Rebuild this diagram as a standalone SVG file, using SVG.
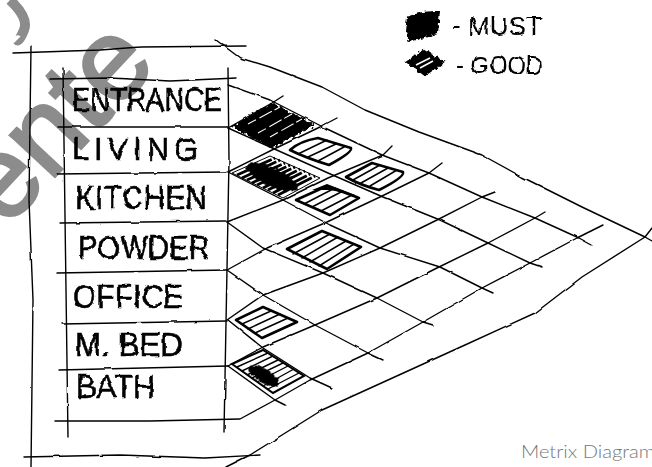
<svg xmlns="http://www.w3.org/2000/svg" width="652" height="467" viewBox="0 0 652 467">
<style>
.ln{fill:none;stroke:#000;stroke-width:1.4;stroke-linecap:round;stroke-linejoin:round}
.lb{font-family:"Liberation Sans",Arial,sans-serif;font-size:33px;fill:#000;stroke:#000;stroke-width:.6}
.lg{font-family:"Liberation Sans",Arial,sans-serif;font-size:26px;fill:#000}
.wm{font-family:"Liberation Sans",Arial,sans-serif;font-size:115px;fill:#8c8c8c;stroke:#8c8c8c;stroke-width:3}
.hg{fill:none;stroke:#000;stroke-width:1.5;stroke-linecap:round;stroke-linejoin:round}
.bd{fill:none;stroke:#000;stroke-width:2.6;stroke-linejoin:round}
.wh{fill:none;stroke:#fff;stroke-width:1.1;stroke-dasharray:9 4 14 3}
</style>
<defs>
<filter id="w" x="-5%" y="-5%" width="110%" height="110%"><feTurbulence type="fractalNoise" baseFrequency="0.06" numOctaves="2" seed="4"/><feDisplacementMap in="SourceGraphic" scale="2.2" xChannelSelector="R" yChannelSelector="G"/></filter>
<filter id="t" x="-5%" y="-10%" width="110%" height="120%"><feTurbulence type="fractalNoise" baseFrequency="0.09" numOctaves="2" seed="9"/><feDisplacementMap in="SourceGraphic" scale="4" xChannelSelector="R" yChannelSelector="G"/></filter>
<filter id="b" x="-15%" y="-15%" width="130%" height="130%"><feTurbulence type="fractalNoise" baseFrequency="0.25" numOctaves="2" seed="3"/><feDisplacementMap in="SourceGraphic" scale="6" xChannelSelector="R" yChannelSelector="G"/></filter>
</defs>
<rect width="652" height="467" fill="#fff"/>
<g id="watermark">
<text class="wm" transform="translate(6 229) rotate(-47)">ente</text>
<path d="M10 0Q29 18 24 30T17 40" fill="none" stroke="#8c8c8c" stroke-width="10"/>
</g>
<g id="connectors" class="ln" filter="url(#w)">
<path d="M13 53L100 50L140 47L246 46"/>
<path d="M31 46L29 200L33 300L31 467"/>
<path d="M24 457L120 455L205 458L260 455"/>
<path d="M216 40L240 58L270 67L322 87L365 110L419 132L482 155L522 177L582 207L645 237L652 241"/>
<path d="M226 467L250 455L322 410L399 375L465 345L535 313L582 277L645 237L652 228"/>
<path d="M50 79L110 78L170 81L237 78"/>
<path d="M63 68L68 437"/>
<path d="M228 68L229 160L224 432"/>
<path d="M57 127L228 127"/>
<path d="M57 174L226 172"/>
<path d="M60 223L226 221"/>
<path d="M57 273L227 270"/>
<path d="M62 324L227 321"/>
<path d="M59 370L228 366"/>
<path d="M55 421L150 421L240 419L275 400L310 380L368 353L423 322L482 288L530 263L577 238L603 225"/>
<path d="M228 85L270 100L325 128L382 155L429 173L482 197L535 218L579 238L592 245"/>
<path d="M228 128L270 147L328 173L383 197L440 220L488 243L530 263L542 267"/>
<path d="M228 172L283 200L330 225L380 248L440 267L482 288L493 293"/>
<path d="M227 222L263 248L323 273L377 298L423 322L433 325"/>
<path d="M227 270L263 295L315 325L368 353L383 360"/>
<path d="M228 320L263 348L310 378L332 388"/>
<path d="M228 366L275 400L285 405"/>
<path d="M228 128L272 103L283 96"/>
<path d="M228 172L272 150L320 127L337 118"/>
<path d="M227 222L283 200L328 178L383 155L392 146"/>
<path d="M227 270L267 248L327 222L380 197L429 173L442 163"/>
<path d="M227 320L263 295L323 273L380 248L437 220L482 197L495 192"/>
<path d="M228 366L263 347L315 325L377 298L437 268L488 243L535 218L545 212"/>
</g>
<g id="cell-entrance-living">
<path d="M232 126L272 103L314 125L272 148Z" fill="#000" stroke="#000" filter="url(#b)"/>
<path class="wh" d="M258 133L292 114M270 137L302 119M248 124L280 107"/>
</g>
<g id="cell-good-1"><path class="bd" d="M290 150Q300 141 318 138L351 148Q353 152 329 165Q306 158 290 150Z"/><path class="hg" d="M298 154L327 140M308 157L336 144M318 161L344 147"/></g>
<g id="cell-good-2"><path class="bd" d="M346 177L372 163L403 172Q405 177 379 190Q360 185 346 177Z"/><path class="hg" d="M353 180L380 165M361 183L388 168M370 186L397 170"/></g>
<g id="cell-kitchen-living">
<path d="M232 173L270 156L320 178L283 198Z" fill="#fff" stroke="#000"/>
<ellipse cx="272" cy="177" rx="28" ry="9" transform="rotate(25 272 177)" fill="#000" filter="url(#b)"/>
<path d="M237 175L275 158M242 178L280 160M247 180L285 163M252 183L290 165M257 185L295 167M263 188L300 169M268 190L305 171M273 193L310 174M278 195L315 176" fill="none" stroke="#000" stroke-width="2.8" stroke-dasharray="16 2 20 2"/>
</g>
<g id="cell-good-3"><path class="bd" d="M296 200L327 186L359 198L330 215Z"/><path d="M312 190L327 184L358 196L340 192L330 190Z" fill="#000"/><path class="hg" d="M304 204L335 188M312 207L343 191M321 211L352 195"/></g>
<g id="cell-good-4"><path class="bd" d="M287 249L322 231L361 247L327 269Z"/><path class="hg" d="M293 254L330 234M302 258L338 237M310 262L346 241M319 266L354 244"/></g>
<g id="cell-good-5"><path class="bd" d="M236 320L263 307L297 322L262 338Z"/><path class="hg" d="M242 324L271 311M248 329L280 314M255 333L288 318"/></g>
<g id="cell-bath">
<path d="M232 364L263 350L304 376L273 393Z" fill="#fff" stroke="#000" stroke-width="2"/>
<path d="M237 367L268 353M242 371L273 356M247 375L278 360M252 378L283 363M257 382L288 366M263 386L294 369M268 389L299 373" fill="none" stroke="#000" stroke-width="1.4"/>
<ellipse cx="264" cy="376" rx="17" ry="7" transform="rotate(30 264 376)" fill="#000" filter="url(#b)"/>
</g>
<g id="row-entrance" filter="url(#t)"><text class="lb" x="72" y="111" textLength="150" lengthAdjust="spacingAndGlyphs">ENTRANCE</text></g>
<g id="row-living" filter="url(#t)"><text class="lb" x="72" y="160" textLength="126" lengthAdjust="spacing" style="font-size:31px">LIVING</text></g>
<g id="row-kitchen" filter="url(#t)"><text class="lb" x="75" y="209" textLength="132" lengthAdjust="spacingAndGlyphs">KITCHEN</text></g>
<g id="row-powder" filter="url(#t)"><text class="lb" x="78" y="259" textLength="132" lengthAdjust="spacingAndGlyphs">POWDER</text></g>
<g id="row-office" filter="url(#t)"><text class="lb" x="73" y="308" textLength="110" lengthAdjust="spacingAndGlyphs">OFFICE</text></g>
<g id="row-mbed" filter="url(#t)"><text class="lb" x="75" y="356" textLength="108" lengthAdjust="spacingAndGlyphs">M. BED</text></g>
<g id="row-bath" filter="url(#t)"><text class="lb" x="76" y="398" textLength="79" lengthAdjust="spacingAndGlyphs">BATH</text></g>
<g id="legend-must">
<path d="M407 17Q420 10 440 11L438 34Q425 38 409 42L405 30Z" fill="#000" filter="url(#b)"/>
<text class="lg" x="452" y="35" textLength="90" lengthAdjust="spacingAndGlyphs" filter="url(#t)">- MUST</text>
</g>
<g id="legend-good">
<path d="M407 62L424 50L443 62L425 75Z" fill="#000" stroke="#000" stroke-width="2" filter="url(#b)"/>
<path d="M416 65L430 58M420 68L433 61" stroke="#fff" stroke-width="1.6"/>
<text class="lg" x="456" y="74" textLength="87" lengthAdjust="spacingAndGlyphs" filter="url(#t)">- GOOD</text>
</g>
<g id="caption"><text x="521" y="458" font-family="Lato,'Liberation Sans',sans-serif" font-size="17" font-weight="300" fill="#777" textLength="134" lengthAdjust="spacingAndGlyphs">Metrix Diagram</text></g>
</svg>
